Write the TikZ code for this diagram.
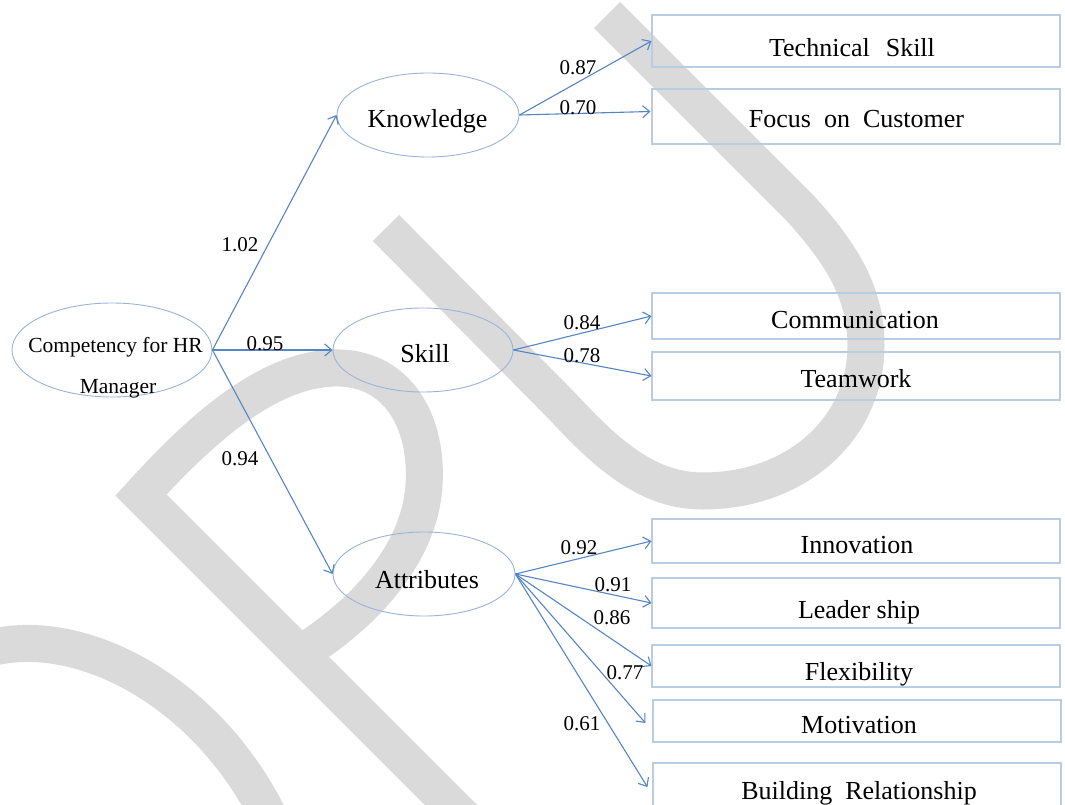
\documentclass[tikz,border=0pt]{standalone}
\usepackage{fontspec}
\setmainfont{Liberation Serif}
\usetikzlibrary{arrows.meta,calc,shapes.geometric}
\definecolor{arrowc}{HTML}{5585C5}
\definecolor{ellc}{HTML}{9AB4D8}
\definecolor{boxc}{HTML}{B8CCE4}
\definecolor{wm}{HTML}{DADADA}
\begin{document}
\begin{tikzpicture}[x=1pt,y=-1pt,
  ell/.style={draw=ellc,line width=0.9pt,ellipse,inner sep=0pt},
  bx/.style={draw=boxc,line width=1.1pt,rectangle,inner sep=0pt,minimum width=408pt},
  btext/.style={anchor=base,font=\fontsize{26}{30}\selectfont,inner sep=0pt},
  ctext/.style={anchor=base,font=\fontsize{21.5}{26}\selectfont,inner sep=0pt},
  lab/.style={font=\fontsize{21}{24}\selectfont,inner sep=0pt},
  conn/.style={draw=arrowc,line width=1.1pt,-{Straight Barb[length=7pt,width=12pt]}},
  wmark/.style={draw=wm,line width=37pt,line cap=butt,line join=miter}
]
\useasboundingbox (0,0) rectangle (1065,805);
\clip (0,0) rectangle (1065,805);
\fill[white] (0,0) rectangle (1065,805);

% watermark
\draw[wmark] (386,228) -- (563,407) .. controls (610,458) and (650,491) .. (703,491)
  .. controls (795,491) and (866,430) .. (866,345)
  .. controls (866,290) and (838,250) .. (800,208) -- (607,15);
\draw[wmark] (475,829) -- (141,495) .. controls (200,430) and (270,366) .. (340,368)
  .. controls (400,370) and (428,425) .. (424,485)
  .. controls (420,550) and (370,610) .. (300,654);
\draw[wmark] (-10,648) .. controls (80,625) and (205,690) .. (268,815);

% latent variables
\node[ell,minimum width=200pt,minimum height=94pt] (comp) at (112,350) {};
\node[ctext] (comp-t1) at (115.5,352) {Competency for HR};
\node[ctext] (comp-t2) at (118,393) {Manager};

\node[ell,minimum width=182pt,minimum height=84pt] (know) at (428,115) {};
\node[btext] (know-t) at (427.5,128) {Knowledge};
\node[ell,minimum width=180pt,minimum height=84pt] (skill) at (423,350) {};
\node[btext] (skill-t) at (425,362) {Skill};
\node[ell,minimum width=182pt,minimum height=84pt] (attr) at (424,574) {};
\node[btext] (attr-t) at (427,588) {Attributes};

% indicators
\node[bx,minimum height=52pt] (ts) at (856,41) {};
\node[btext] at (852,57) {Technical\hspace{16pt}Skill};
\node[bx,minimum height=55pt] (fc) at (856,116.5) {};
\node[btext] at (856.5,128) {Focus\hspace{13pt}on\hspace{13pt}Customer};
\node[bx,minimum height=46pt] (cm) at (856,316) {};
\node[btext] at (855,328) {Communication};
\node[bx,minimum height=48pt] (tw) at (856,376) {};
\node[btext] at (856,387) {Teamwork};
\node[bx,minimum height=44pt] (in) at (856,541) {};
\node[btext] at (857,553) {Innovation};
\node[bx,minimum height=50pt] (ld) at (856,603) {};
\node[btext] at (859,618) {Leader ship};
\node[bx,minimum height=42pt] (fx) at (856,666) {};
\node[btext] at (859,680) {Flexibility};
\node[bx,minimum height=42pt] (mo) at (857,721) {};
\node[btext] at (859,733) {Motivation};
\node[bx,minimum height=70pt] (br) at (857,798) {};
\node[btext] at (859,799) {Building\hspace{13pt}Relationship};

% connectors
\draw[conn] (comp.east) -- (know.west);
\draw[conn] (comp.east) -- (skill.west);
\draw[conn] (comp.east) -- (attr.west);
\draw[conn] (know.east) -- (ts.west);
\draw[conn] (know.east) -- ($(fc.west)+(-1,-5)$);
\draw[conn] (skill.east) -- (cm.west);
\draw[conn] (skill.east) -- (tw.west);
\draw[conn] (attr.east) -- (in.west);
\draw[conn] (attr.east) -- (ld.west);
\draw[conn] (attr.east) -- (fx.west);
\draw[conn] (attr.east) -- ($(mo.west)+(-7,2)$);
\draw[conn] (attr.east) -- ($(br.west)+(-5,-11)$);

% loadings
\node[lab] (l1) at (240,245) {1.02};
\node[lab] (l2) at (265,344) {0.95};
\node[lab] (l3) at (240,459) {0.94};
\node[lab] (l4) at (578,68) {0.87};
\node[lab] (l5) at (578,108) {0.70};
\node[lab] (l6) at (582,323) {0.84};
\node[lab] (l7) at (582,356) {0.78};
\node[lab] (l8) at (579,548) {0.92};
\node[lab] (l9) at (613,585) {0.91};
\node[lab] (l10) at (612,618) {0.86};
\node[lab] (l11) at (625,673) {0.77};
\node[lab] (l12) at (582,724) {0.61};
\end{tikzpicture}
\end{document}
